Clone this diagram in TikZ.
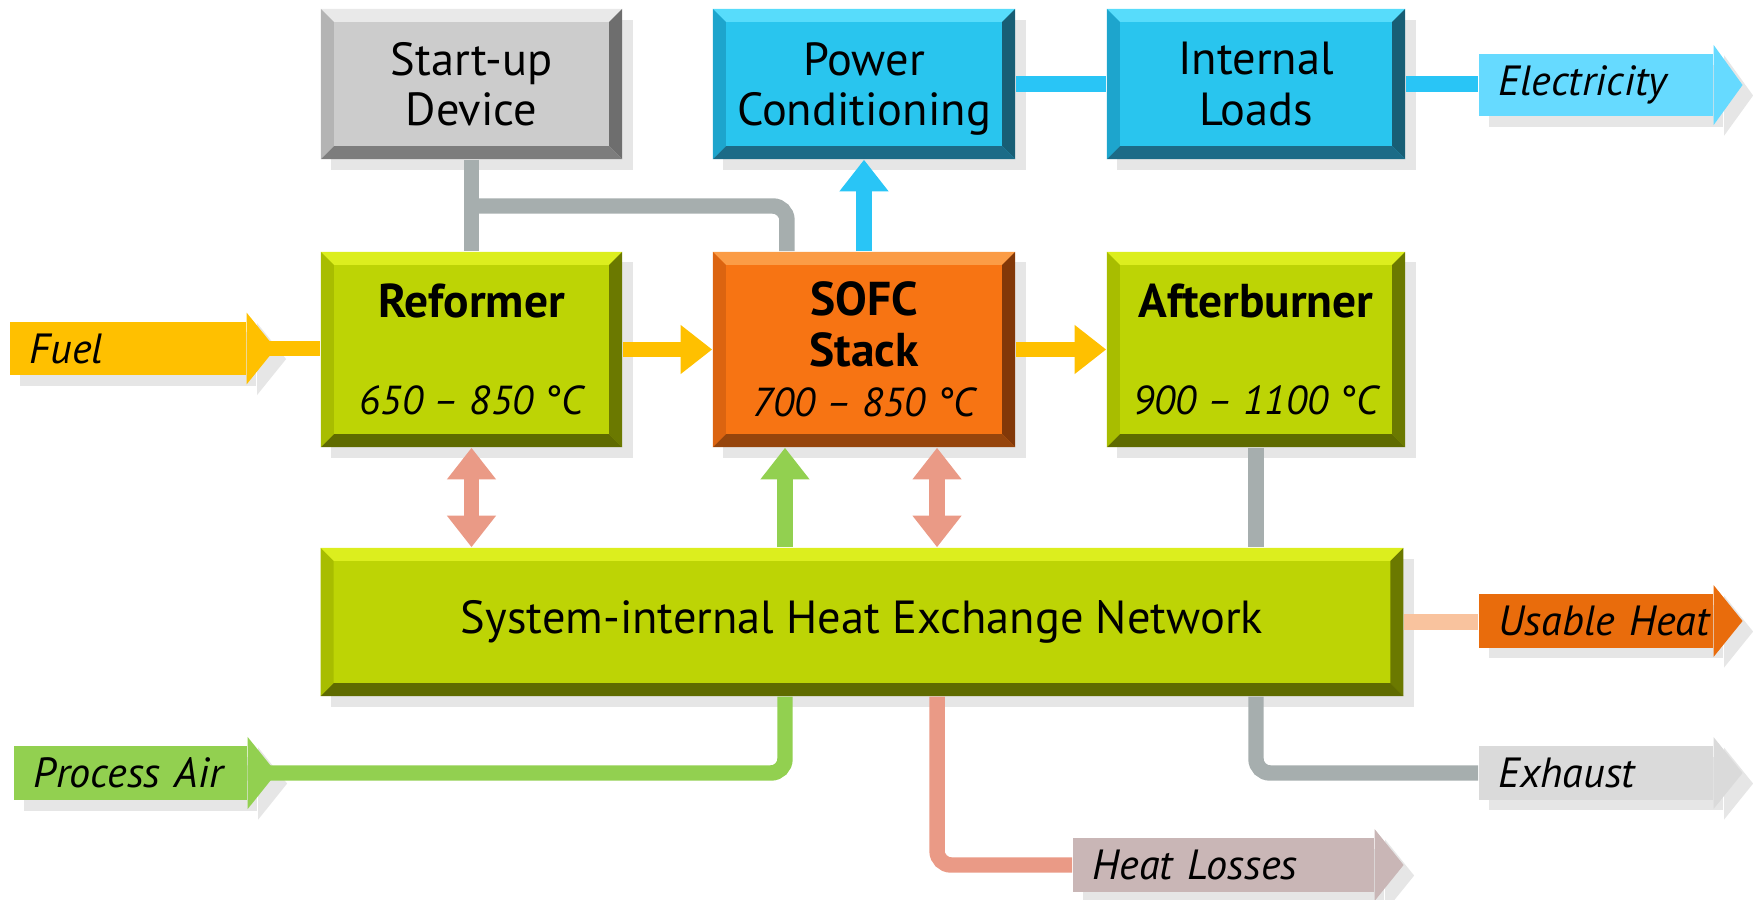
\documentclass[tikz,border=0pt]{standalone}
\usepackage{fontspec}
\setmainfont{PT Sans}
\usetikzlibrary{arrows.meta,shadows}

% box colours: base, top, left, right, bottom
\definecolor{gnBase}{HTML}{BDD405}
\definecolor{gnTop}{HTML}{DCEE1E}
\definecolor{gnLeft}{HTML}{A8BD00}
\definecolor{gnRight}{HTML}{6B7900}
\definecolor{gnBot}{HTML}{5F6B00}
\definecolor{grBase}{HTML}{CCCCCC}
\definecolor{grTop}{HTML}{E9E9E9}
\definecolor{grLeft}{HTML}{B4B4B4}
\definecolor{grRight}{HTML}{6E6E6E}
\definecolor{grBot}{HTML}{7D7D7D}
\definecolor{blBase}{HTML}{29C5EE}
\definecolor{blTop}{HTML}{57DCFB}
\definecolor{blLeft}{HTML}{1DA5CD}
\definecolor{blRight}{HTML}{185E75}
\definecolor{blBot}{HTML}{1C6B87}
\definecolor{orBase}{HTML}{F77413}
\definecolor{orTop}{HTML}{FB9C46}
\definecolor{orLeft}{HTML}{DC6410}
\definecolor{orRight}{HTML}{823808}
\definecolor{orBot}{HTML}{96450C}
% flows
\definecolor{fuelC}{HTML}{FFC000}
\definecolor{elecC}{HTML}{66DAFF}
\definecolor{lineBlue}{HTML}{29C5F6}
\definecolor{lineGray}{HTML}{A6AEAE}
\definecolor{heatC}{HTML}{EA9A86}
\definecolor{airC}{HTML}{92D050}
\definecolor{useC}{HTML}{E96C0C}
\definecolor{useLine}{HTML}{F9C39E}
\definecolor{exhC}{HTML}{DADADA}
\definecolor{lossC}{HTML}{C9B6B6}

\newcommand\bevw{3.7pt}
\newcommand\ttl[1]{{\fontsize{13.5}{14.3}\selectfont\bfseries #1}}
\newcommand\tmp[1]{{\fontsize{11.5}{14.3}\selectfont\itshape #1}}

\tikzset{
	bevel/.style={fill=#1Base,
		drop shadow={shadow xshift=3pt, shadow yshift=-3pt, opacity=0.2},
		path picture={
			\fill[#1Top] (path picture bounding box.north west) -- (path picture bounding box.north east)
				-- ([shift={(-\bevw,-\bevw)}]path picture bounding box.north east) -- ([shift={(\bevw,-\bevw)}]path picture bounding box.north west) -- cycle;
			\fill[#1Right] (path picture bounding box.north east) -- (path picture bounding box.south east)
				-- ([shift={(-\bevw,\bevw)}]path picture bounding box.south east) -- ([shift={(-\bevw,-\bevw)}]path picture bounding box.north east) -- cycle;
			\fill[#1Bot] (path picture bounding box.south east) -- (path picture bounding box.south west)
				-- ([shift={(\bevw,\bevw)}]path picture bounding box.south west) -- ([shift={(-\bevw,\bevw)}]path picture bounding box.south east) -- cycle;
			\fill[#1Left] (path picture bounding box.south west) -- (path picture bounding box.north west)
				-- ([shift={(\bevw,-\bevw)}]path picture bounding box.north west) -- ([shift={(\bevw,\bevw)}]path picture bounding box.south west) -- cycle;
		}},
	box/.style={bevel=#1, minimum width=3.01cm, minimum height=1.5cm, align=center, inner sep=0pt},
	tag/.style={fill=#1, anchor=west, minimum height=0.49cm, inner xsep=0.2cm, text width=1.94cm,
		align=left, font=\fontsize{12}{14}\selectfont\itshape,
		drop shadow={shadow xshift=3pt, shadow yshift=-3pt, opacity=0.2}},
	flow/.style={draw=#1, line width=4.4pt},
	flowtip/.style={-{Triangle[length=9pt,width=13.4pt]}},
}

\begin{document}
\begin{tikzpicture}[x=0.01cm, y=-0.01cm, font=\fontsize{13.2}{14.3}\selectfont]
	\useasboundingbox (0,0) rectangle (1753,900);
	% top row
	\node[box=gr] (start) at (471.5,84) {Start-up\\Device};
	\node[box=bl, minimum width=3.02cm] (power) at (864,84) {Power\\\smash{Conditioning}};
	\node[box=bl, minimum width=2.98cm] (loads) at (1256,84) {Internal\\Loads};
	% middle row
	\node[box=gn, minimum height=1.95cm] (ref) at (471.5,349.5) {\ttl{Reformer}\\[13.5pt]\tmp{650 -- 850 °C}};
	\node[box=or, minimum width=3.02cm, minimum height=1.95cm] (sofc) at (864,349.5) {\ttl{SOFC}\\\ttl{Stack}\\\tmp{700 -- 850 °C}};
	\node[box=gn, minimum width=2.98cm, minimum height=1.95cm] (after) at (1256,349.5) {\ttl{Afterburner}\\[13.5pt]\tmp{900 -- 1100 °C}};
	% heat exchange network
	\node[box=gn, minimum width=10.82cm, minimum height=1.48cm] (hx) at (862,622) {System-internal Heat Exchange Network};
	% in- and outputs
	\node[tag=fuelC, text width=1.96cm] (fuel) at (9,348.5) {\mbox{Fuel}};
	\node[tag=airC, text width=1.93cm] (air) at (13,773) {\mbox{Process Air}};
	\node[tag=elecC] (elec) at (1478,85) {\mbox{Electricity}};
	\node[tag=useC] (use) at (1478,621) {\mbox{Usable Heat}};
	\node[tag=exhC] (exh) at (1478,773) {\mbox{Exhaust}};
	\node[tag=lossC, text width=2.61cm] (loss) at (1072,865) {\mbox{Heat Losses}};
	\foreach \n/\c in {fuel/fuelC, air/airC, elec/elecC, use/useC, exh/exhC, loss/lossC}
		\fill[\c, drop shadow={shadow xshift=3pt, shadow yshift=-3pt, opacity=0.2}]
			([yshift=0.085cm]\n.north east) -- ([xshift=0.29cm]\n.east) -- ([yshift=-0.085cm]\n.south east) -- cycle;

	% start-up device
	\coordinate (gsplit) at (471,206);
	\draw[flow=lineGray] (start.south) -- (ref.north);
	\draw[flow=lineGray, rounded corners=4pt] (gsplit) -| ([xshift=-0.77cm]sofc.north);
	% electricity
	\draw[flow=lineBlue, flowtip] (sofc.north) -- (power.south);
	\draw[flow=lineBlue] (power.east) -- (loads.west);
	\draw[flow=lineBlue] (loads.east) -- (loads.east -| elec.west);
	% fuel path
	\draw[flow=fuelC] (fuel.east) -- (fuel.east -| ref.west);
	\draw[flow=fuelC, flowtip] (ref.east) -- (sofc.west);
	\draw[flow=fuelC, flowtip] (sofc.east) -- (after.west);
	% heat coupling
	\draw[flow=heatC, {Triangle[length=9pt,width=13.4pt]}-{Triangle[length=9pt,width=13.4pt]}] (ref.south) -- (ref.south |- hx.north);
	\draw[flow=heatC, {Triangle[length=9pt,width=13.4pt]}-{Triangle[length=9pt,width=13.4pt]}] ([xshift=0.73cm]sofc.south) -- ([xshift=0.73cm]sofc.south |- hx.north);
	% process air
	\coordinate (airbend) at (785,773);
	\draw[flow=airC, rounded corners=4pt] (air.east) -| (airbend |- hx.south);
	\draw[flow=airC, flowtip] (airbend |- hx.north) -- (airbend |- sofc.south);
	% exhaust
	\draw[flow=lineGray] (after.south) -- (after.south |- hx.north);
	\draw[flow=lineGray, rounded corners=4pt] (after.south |- hx.south) |- (exh.west);
	% heat outputs
	\draw[flow=useLine] (hx.east) -- (hx.east -| use.west);
	\draw[flow=heatC, rounded corners=4pt] ([xshift=0.73cm]sofc.south |- hx.south) |- (loss.west);
\end{tikzpicture}
\end{document}
